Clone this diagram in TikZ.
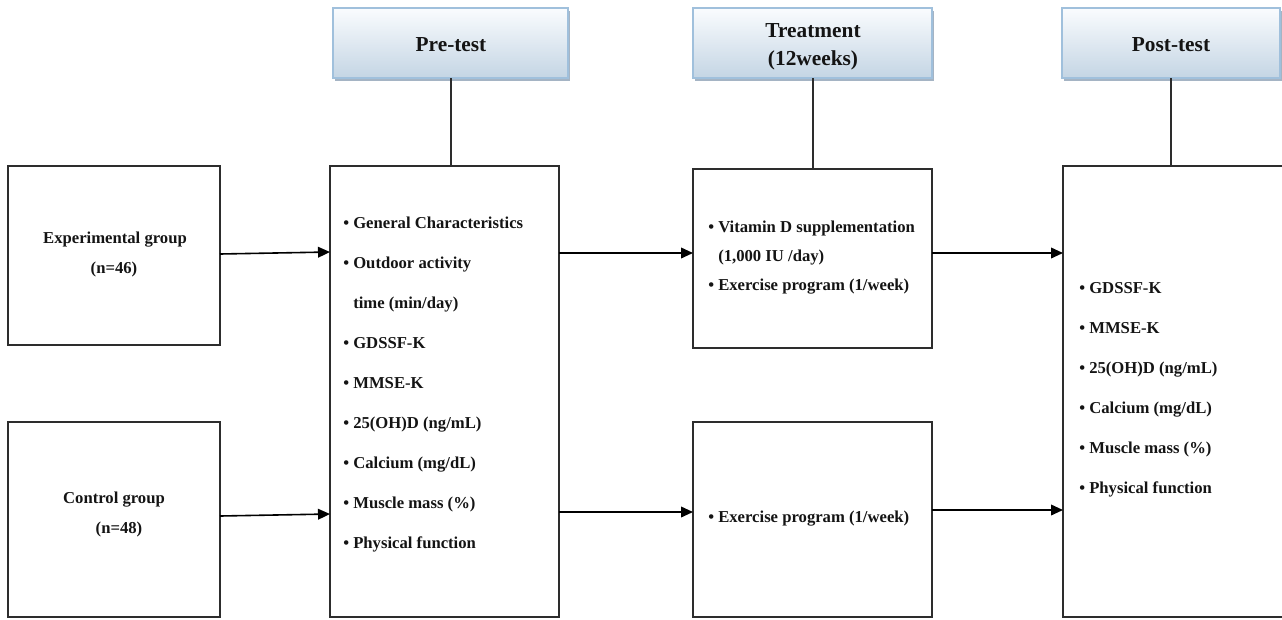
\documentclass[tikz,border=0pt]{standalone}
\usepackage{fontspec}
\setmainfont{Liberation Serif}
\usetikzlibrary{arrows.meta,shadows,fit}
\definecolor{hdtop}{RGB}{250,252,254}
\definecolor{hdbot}{RGB}{196,213,228}
\definecolor{hdedge}{RGB}{160,192,220}
\definecolor{hdshadow}{RGB}{165,180,196}
\definecolor{boxedge}{RGB}{45,45,45}
\definecolor{txtcol}{RGB}{20,20,20}
\begin{document}
\begin{tikzpicture}[x=0.75pt,y=-0.75pt,
  box/.style={draw=boxedge,line width=1.1pt,inner sep=0pt,outer sep=0pt},
  hdr/.style={draw=hdedge,line width=0.8pt,top color=hdtop,bottom color=hdbot,
    drop shadow={shadow xshift=1.5pt,shadow yshift=-2pt,fill=hdshadow,opacity=1},
    inner sep=0pt,outer sep=0pt},
  hdtxt/.style={font=\fontsize{16}{21}\selectfont\bfseries,text=txtcol,align=center,inner sep=0pt},
  txt/.style={font=\fontsize{12.5}{15}\selectfont\bfseries,text=txtcol,inner sep=0pt,anchor=base west},
  ctxt/.style={font=\fontsize{12.5}{15}\selectfont\bfseries,text=txtcol,inner sep=0pt,anchor=base},
  arr/.style={-{Triangle[length=9pt,width=8pt]},line width=1.2pt,draw=black},
  link/.style={line width=1.3pt,draw=boxedge}]
\path[use as bounding box] (0,0) rectangle (1282,619);
\clip (0,0) rectangle (1282,619);

% header boxes
\node[hdr,fit={(333,8) (568,78)}] (hpre) {};
\node[hdr,fit={(693,8) (932,78)}] (htr) {};
\node[hdr,fit={(1062,8) (1280,78)}] (hpost) {};
\node[hdtxt] (hpret) at (451,45) {Pre-test};
\node[hdtxt] (htrt) at (813,47) {Treatment\\(12weeks)};
\node[hdtxt] (hpostt) at (1171,45) {Post-test};

% boxes
\node[box,fit={(8,166) (220,345)}] (exp) {};
\node[box,fit={(8,422) (220,617)}] (ctl) {};
\node[box,fit={(330,166) (559,617)}] (pre) {};
\node[box,fit={(693,169) (932,348)}] (trA) {};
\node[box,fit={(693,422) (932,617)}] (trB) {};
\node[box,fit={(1063,166) (1300,617)}] (post) {};

% vertical links
\draw[link] ([xshift=0.375pt]hpre.south) -- ([xshift=0.375pt]hpre.south |- pre.north);
\draw[link] ([xshift=0.375pt]htr.south) -- ([xshift=0.375pt]htr.south |- trA.north);
\draw[link] (hpost.south) -- (hpost.south |- post.north);

% group texts
\node[ctxt] (expt1) at (115,243) {Experimental group};
\node[ctxt] (expt2) at (114,273) {(n=46)};
\node[ctxt] (ctlt1) at (114,503) {Control group};
\node[ctxt] (ctlt2) at (119,533) {(n=48)};

% pre-test list
\foreach \s [count=\i] in {{\textbullet\ General Characteristics},
  {\textbullet\ Outdoor activity},
  {\phantom{\textbullet\ }time (min/day)},
  {\textbullet\ GDSSF-K},
  {\textbullet\ MMSE-K},
  {\textbullet\ 25(OH)D (ng/mL)},
  {\textbullet\ Calcium (mg/dL)},
  {\textbullet\ Muscle mass (\%)},
  {\textbullet\ Physical function}}
  \node[txt] (pre\i) at (343,188+40*\i) {\s};

% treatment texts
\node[txt] (trA1) at (708,232) {\textbullet\ Vitamin D supplementation};
\node[txt] (trA2) at (708,261) {\phantom{\textbullet\ }(1,000 IU /day)};
\node[txt] (trA3) at (708,290) {\textbullet\ Exercise program (1/week)};
\node[txt] (trB1) at (708,522) {\textbullet\ Exercise program (1/week)};

% post-test list
\foreach \s [count=\i] in {{\textbullet\ GDSSF-K},
  {\textbullet\ MMSE-K},
  {\textbullet\ 25(OH)D (ng/mL)},
  {\textbullet\ Calcium (mg/dL)},
  {\textbullet\ Muscle mass (\%)},
  {\textbullet\ Physical function}}
  \node[txt] (post\i) at (1079,253+40*\i) {\s};

% arrows
\draw[arr] (exp.east |- 0,254) -- (pre.west |- 0,252);
\draw[arr] (ctl.east |- 0,516) -- (pre.west |- 0,514);
\draw[arr] (pre.east |- 0,253) -- (trA.west |- 0,253);
\draw[arr] (trA.east |- 0,253) -- (post.west |- 0,253);
\draw[arr] (pre.east |- 0,512) -- (trB.west |- 0,512);
\draw[arr] (trB.east |- 0,510) -- (post.west |- 0,510);
\end{tikzpicture}
\end{document}
